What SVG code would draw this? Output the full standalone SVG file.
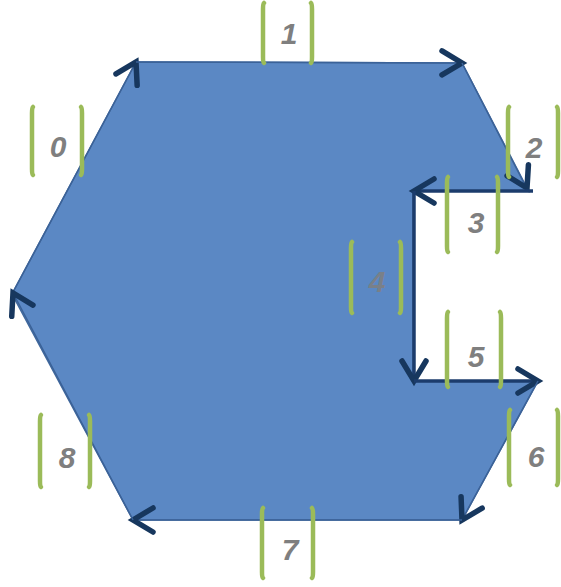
<svg xmlns="http://www.w3.org/2000/svg" width="561" height="587" viewBox="0 0 561 587">
<style>
.shape{fill:#5b88c4;stroke:#41699d;stroke-width:1.5;stroke-linejoin:miter}
.edge{stroke:#3b6298;stroke-width:1.5;fill:none}
.edge.thick{stroke:#1c3c6c;stroke-width:3.5}
.br{stroke:#9bbb59;stroke-width:4.5;fill:none;stroke-linecap:round}
.num{font-family:"Liberation Sans",Arial,sans-serif;font-weight:bold;font-style:italic;font-size:30px;fill:#7f7f7f;text-anchor:middle}
</style>
<defs>
<marker id="ah" markerUnits="userSpaceOnUse" markerWidth="30" markerHeight="30" refX="0" refY="0" orient="auto" overflow="visible">
<path d="M-20,-12 L0,0 L-20,12" fill="none" stroke="#17375e" stroke-width="5.5" stroke-linecap="round" stroke-linejoin="miter"/>
</marker>
</defs>
<g id="shape">
<polygon class="shape" points="136,62 462,63 528,191 413,191 413,381 538,381 462,520 133,520 12,294"/>
</g>
<g id="connectors">
<line class="edge" x1="12" y1="294" x2="136" y2="62" marker-end="url(#ah)"/>
<line class="edge" x1="136" y1="62" x2="462" y2="63" marker-end="url(#ah)"/>
<line class="edge" x1="462" y1="63" x2="527" y2="188" marker-end="url(#ah)"/>
<line class="edge thick" x1="533" y1="191" x2="414" y2="191" marker-end="url(#ah)"/>
<line class="edge thick" x1="414" y1="191" x2="414" y2="381" marker-end="url(#ah)"/>
<line class="edge thick" x1="414" y1="381" x2="538" y2="381" marker-end="url(#ah)"/>
<line class="edge" x1="538" y1="381" x2="462" y2="520" marker-end="url(#ah)"/>
<line class="edge" x1="462" y1="520" x2="133" y2="520" marker-end="url(#ah)"/>
<line class="edge" x1="133" y1="520" x2="13" y2="293" marker-end="url(#ah)"/>
</g>
<g id="label0">
<path class="br" d="M33,107 Q32,108 32,113 L32,169 Q32,174 33,175"/>
<path class="br" d="M81,107 Q82,108 82,113 L82,169 Q82,174 81,175"/>
<text class="num" x="58" y="157">0</text>
</g>
<g id="label1">
<path class="br" d="M264,3 Q263,4 263,9 L263,57 Q263,62 264,63"/>
<path class="br" d="M311,3 Q312,4 312,9 L312,57 Q312,62 311,63"/>
<text class="num" x="289" y="44">1</text>
</g>
<g id="label2">
<path class="br" d="M509,107 Q508,108 508,113 L508,171 Q508,176 509,177"/>
<path class="br" d="M557,107 Q558,108 558,113 L558,171 Q558,176 557,177"/>
<text class="num" x="534" y="158">2</text>
</g>
<g id="label3">
<path class="br" d="M448,177 Q447,178 447,183 L447,246 Q447,251 448,252"/>
<path class="br" d="M497,177 Q498,178 498,183 L498,246 Q498,251 497,252"/>
<text class="num" x="476" y="233">3</text>
</g>
<g id="label4">
<path class="br" d="M352,242 Q351,243 351,248 L351,307 Q351,312 352,313"/>
<path class="br" d="M400,242 Q401,243 401,248 L401,307 Q401,312 400,313"/>
<text class="num" x="377" y="292" fill-opacity="0.85">4</text>
</g>
<g id="label5">
<path class="br" d="M448,312 Q447,313 447,318 L447,381 Q447,386 448,387"/>
<path class="br" d="M500,312 Q501,313 501,318 L501,381 Q501,386 500,387"/>
<text class="num" x="476" y="367">5</text>
</g>
<g id="label6">
<path class="br" d="M510,410 Q509,411 509,416 L509,479 Q509,484 510,485"/>
<path class="br" d="M557,410 Q558,411 558,416 L558,479 Q558,484 557,485"/>
<text class="num" x="536" y="467">6</text>
</g>
<g id="label7">
<path class="br" d="M263,508 Q262,509 262,514 L262,572 Q262,577 263,578"/>
<path class="br" d="M312,508 Q313,509 313,514 L313,572 Q313,577 312,578"/>
<text class="num" x="290" y="560">7</text>
</g>
<g id="label8">
<path class="br" d="M41,415 Q40,416 40,421 L40,481 Q40,486 41,487"/>
<path class="br" d="M89,415 Q90,416 90,421 L90,481 Q90,486 89,487"/>
<text class="num" x="67" y="468">8</text>
</g>
</svg>
